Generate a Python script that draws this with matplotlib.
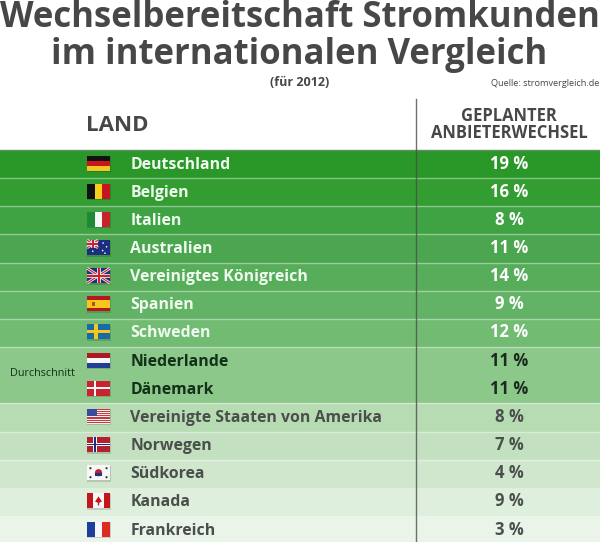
import matplotlib
matplotlib.use("Agg")
import matplotlib.pyplot as plt
from matplotlib.patches import Rectangle, Circle, Polygon

plt.rcParams['font.family'] = ['Open Sans', 'DejaVu Sans']

countries = ["Deutschland", "Belgien", "Italien", "Australien", "Vereinigtes Königreich", "Spanien",
             "Schweden", "Niederlande", "Dänemark", "Vereinigte Staaten von Amerika", "Norwegen",
             "Südkorea", "Kanada", "Frankreich"]
values = [19, 16, 8, 11, 14, 9, 12, 11, 11, 8, 7, 4, 9, 3]
flag_codes = ["de", "be", "it", "au", "gb", "es", "se", "nl", "dk", "us", "no", "kr", "ca", "fr"]
row_colors = ["#2a9829", "#339d32", "#3fa243", "#4ba64f", "#58ad5b", "#63b366", "#72bb73",
              "#8cc88a", "#8cc88a", "#b7dcb4", "#c3e1c1", "#d0e7ce", "#dfefdd", "#eaf4e9"]
text_colors = ["#eefaee"] * 7 + ["#12301a"] * 2 + ["#4a4f4b"] * 5
value_colors = ["#ffffff"] * 7 + ["#1a2a1e"] * 2 + ["#4a4f4b"] * 5

fig = plt.figure(figsize=(6.0, 5.42), dpi=100)
ax = fig.add_axes([0, 0, 1, 1])
ax.set_xlim(0, 600)
ax.set_ylim(542, 0)
ax.axis("off")

TOP = 150.0
H = 28.15
DARK = "#474747"


def flag(code, cy):
    x0, w, h = 87.0, 23.0, 15.0
    y0 = cy - h / 2
    z = 5

    def r(fx, fy, fw, fh, c):
        ax.add_patch(Rectangle((x0 + fx * w, y0 + fy * h), fw * w, fh * h, fc=c, ec="none", zorder=z))

    def l(pts, c, lw):
        ax.plot([x0 + p[0] * w for p in pts], [y0 + p[1] * h for p in pts], color=c, lw=lw, zorder=z + 1,
                solid_capstyle="butt")

    ax.add_patch(Rectangle((x0 - .5, y0 + .5), w + 1.5, h + 1, fc="#000000", alpha=0.14, ec="none", zorder=4))
    if code == "de":
        for i, c in enumerate(["#111111", "#c9141c", "#f3c623"]):
            r(0, i / 3, 1, 1 / 3, c)
    elif code == "be":
        for i, c in enumerate(["#111111", "#f4cf1c", "#c8141e"]):
            r(i / 3, 0, 1 / 3, 1, c)
    elif code == "it":
        for i, c in enumerate(["#1f8a35", "#f7f7f7", "#c8232a"]):
            r(i / 3, 0, 1 / 3, 1, c)
    elif code == "fr":
        for i, c in enumerate(["#1c3f9c", "#f7f7f7", "#dc2b20"]):
            r(i / 3, 0, 1 / 3, 1, c)
    elif code == "nl":
        for i, c in enumerate(["#ad1a26", "#f7f7f7", "#1f3f96"]):
            r(0, i / 3, 1, 1 / 3, c)
    elif code == "es":
        r(0, 0, 1, 1, "#b8151e")
        r(0, .25, 1, .5, "#f6c81e")
        r(.2, .35, .13, .3, "#a8551c")
    elif code == "se":
        r(0, 0, 1, 1, "#1b6aa8")
        r(.3, 0, .17, 1, "#f2c81e")
        r(0, .4, 1, .2, "#f2c81e")
    elif code == "dk":
        r(0, 0, 1, 1, "#c8232e")
        r(.3, 0, .1, 1, "#f7f7f7")
        r(0, .43, 1, .14, "#f7f7f7")
    elif code == "no":
        r(0, 0, 1, 1, "#b5202e")
        r(.27, 0, .18, 1, "#f7f7f7")
        r(0, .39, 1, .22, "#f7f7f7")
        r(.32, 0, .08, 1, "#1d2f7c")
        r(0, .46, 1, .08, "#1d2f7c")
    elif code == "us":
        for i in range(7):
            r(0, i / 7, 1, 1 / 14, "#c23a42")
            r(0, i / 7 + 1 / 14, 1, 1 / 14, "#f5f0f0")
        r(0, 0, .45, .5, "#3a4a9c")
    elif code == "ca":
        r(0, 0, 1, 1, "#f7f7f7")
        r(0, 0, .27, 1, "#c4141c")
        r(.73, 0, .27, 1, "#c4141c")
        ax.add_patch(Polygon([(x0 + .5 * w, y0 + .2 * h), (x0 + .65 * w, y0 + .55 * h), (x0 + .53 * w, y0 + .62 * h),
                              (x0 + .53 * w, y0 + .8 * h), (x0 + .47 * w, y0 + .8 * h), (x0 + .47 * w, y0 + .62 * h),
                              (x0 + .35 * w, y0 + .55 * h)], fc="#c4141c", ec="none", zorder=z + 1))
    elif code == "kr":
        r(0, 0, 1, 1, "#f7f7f7")
        ax.add_patch(Circle((x0 + .5 * w, y0 + .5 * h), 3.6, fc="#c4202c", ec="none", zorder=z + 1))
        ax.add_patch(Rectangle((x0 + .36 * w, y0 + .5 * h), .28 * w, 3.2, fc="#1f3486", ec="none", zorder=z + 2))
        for fx, fy in [(.15, .2), (.85, .2), (.15, .8), (.85, .8)]:
            ax.add_patch(Circle((x0 + fx * w, y0 + fy * h), 1.1, fc="#333333", ec="none", zorder=z + 1))
    elif code in ("gb", "au"):
        r(0, 0, 1, 1, "#232f7c" if code == "gb" else "#1b2f80")
        fw = 1.0 if code == "gb" else .48
        fh = 1.0 if code == "gb" else .52
        l([(0, 0), (fw, fh)], "#f2f2f2", 2.0)
        l([(0, fh), (fw, 0)], "#f2f2f2", 2.0)
        l([(0, 0), (fw, fh)], "#c8202c", .8)
        l([(0, fh), (fw, 0)], "#c8202c", .8)
        l([(fw / 2, 0), (fw / 2, fh)], "#f2f2f2", 2.6)
        l([(0, fh / 2), (fw, fh / 2)], "#f2f2f2", 2.6)
        l([(fw / 2, 0), (fw / 2, fh)], "#c8202c", 1.4)
        l([(0, fh / 2), (fw, fh / 2)], "#c8202c", 1.4)
        if code == "au":
            for fx, fy in [(.25, .75), (.7, .2), (.85, .45), (.68, .7), (.78, .88)]:
                ax.add_patch(Circle((x0 + fx * w, y0 + fy * h), .8, fc="#ffffff", ec="none", zorder=z + 1))


for i, (name, val, code, col, tc, vc) in enumerate(zip(countries, values, flag_codes, row_colors, text_colors, value_colors)):
    y = TOP + i * H
    ax.add_patch(Rectangle((0, y), 600, H + .5, fc=col, ec="none", zorder=1))
    cy = y + H / 2 - 1
    flag(code, cy)
    ax.text(130.5, cy + 5.5, name, fontsize=11.4, fontweight="bold", color=tc, va="baseline", ha="left", zorder=6)
    ax.text(509, cy + 5.5, f"{val} %", fontsize=12, fontweight="bold", color=vc, va="baseline", ha="center", zorder=6)
    if 0 < i < 12 and i != 8:
        ax.plot([0, 600], [y, y], color="#ffffff", alpha=.4, lw=1, zorder=2)

ax.plot([0, 600], [TOP, TOP], color="#5f8f5f", lw=1, zorder=3)
ax.plot([415.5, 415.5], [99, 542], color="#4a4f4b", alpha=.8, lw=1.0, zorder=3)

ax.text(300, 27, "Wechselbereitschaft Stromkunden", fontsize=25.0, fontweight="bold", color=DARK, ha="center", va="baseline")
ax.text(299.5, 64, "im internationalen Vergleich", fontsize=25.0, fontweight="bold", color=DARK, ha="center", va="baseline")
ax.text(299.5, 83, "(für 2012)", fontsize=9, fontweight="bold", color=DARK, ha="center", va="center")
ax.text(599, 84, "Quelle: stromvergleich.de", fontsize=6.6, color=DARK, ha="right", va="center")
ax.text(86, 131, "LAND", fontsize=16, fontweight="bold", color=DARK, ha="left", va="baseline")
ax.text(509, 121, "GEPLANTER", fontsize=11.9, fontweight="bold", color=DARK, ha="center", va="baseline")
ax.text(509, 138, "ANBIETERWECHSEL", fontsize=11.9, fontweight="bold", color=DARK, ha="center", va="baseline")
ax.text(42, 374, "Durchschnitt", fontsize=7.8, color="#12301a", ha="center", va="center", zorder=6)

fig.savefig("out.png", dpi=100)
